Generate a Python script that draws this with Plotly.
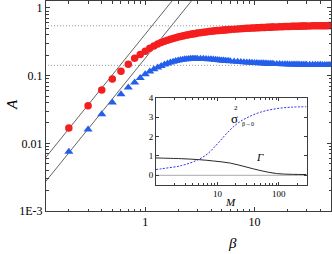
import plotly.graph_objects as go

# ---------------- data ----------------
beta_red = [0.2, 0.3, 0.4, 0.5, 0.6, 0.7, 0.8, 0.9, 1.0,
            1.1, 1.2, 1.3, 1.4, 1.5, 1.6, 1.7, 1.8, 1.9, 2.0,
            2.1, 2.2, 2.3, 2.4, 2.5, 2.6, 2.7, 2.8, 2.9, 3.0,
            3.2, 3.4, 3.6, 3.8, 4.0, 4.2, 4.4, 4.6, 4.8, 5.0,
            5.2, 5.4, 5.6, 5.8, 6.0, 6.5, 7.0, 7.5, 8.0, 8.5,
            9.0, 9.5, 10, 10.5, 11, 11.5, 12, 12.5, 13, 13.5,
            14, 14.5, 15, 16, 17, 18, 19, 20, 21, 22,
            23, 24, 25, 26, 27, 28, 29, 30, 32, 34,
            36, 38, 40, 42, 44, 46, 48, 50]
A_red = [0.0168, 0.0359, 0.0614, 0.0889, 0.116, 0.147, 0.180, 0.206, 0.230,
         0.254, 0.275, 0.293, 0.308, 0.322, 0.334, 0.345, 0.355, 0.364, 0.372,
         0.379, 0.386, 0.392, 0.398, 0.403, 0.408, 0.413, 0.417, 0.421, 0.425,
         0.432, 0.438, 0.443, 0.448, 0.452, 0.456, 0.460, 0.463, 0.466, 0.469,
         0.472, 0.474, 0.477, 0.479, 0.481, 0.486, 0.490, 0.494, 0.497, 0.500,
         0.503, 0.505, 0.507, 0.509, 0.511, 0.513, 0.515, 0.516, 0.518, 0.519,
         0.520, 0.522, 0.523, 0.525, 0.527, 0.529, 0.531, 0.532, 0.534, 0.535,
         0.536, 0.537, 0.538, 0.539, 0.540, 0.541, 0.541, 0.542, 0.543, 0.544,
         0.545, 0.546, 0.547, 0.547, 0.548, 0.548, 0.549, 0.549]

beta_blue = beta_red
A_blue = [0.0075, 0.016, 0.027, 0.040, 0.053, 0.067, 0.079, 0.092, 0.105,
          0.115, 0.124, 0.132, 0.139, 0.146, 0.151, 0.156, 0.160, 0.164, 0.167,
          0.170, 0.172, 0.174, 0.175, 0.176, 0.177, 0.178, 0.178, 0.178, 0.178,
          0.178, 0.177, 0.176, 0.175, 0.174, 0.173, 0.172, 0.170, 0.169, 0.168,
          0.167, 0.166, 0.165, 0.164, 0.163, 0.162, 0.160, 0.159, 0.158, 0.157,
          0.156, 0.155, 0.154, 0.1535, 0.153, 0.1525, 0.152, 0.1515, 0.151, 0.1505,
          0.150, 0.1495, 0.149, 0.1485, 0.148, 0.1477, 0.1473, 0.147, 0.1467, 0.1463,
          0.146, 0.146, 0.1457, 0.1455, 0.1453, 0.145, 0.145, 0.145, 0.1448, 0.1446,
          0.1445, 0.1444, 0.1443, 0.1442, 0.1441, 0.144, 0.144, 0.144]

# power-law guide lines A = c * beta^2
coef_lines = [0.41, 0.181]
line_beta = [0.1, 3.0]
# plateau levels
plateaus = [0.546, 0.142]
plateau_beta = [0.1, 60]

# inset data
M_sigma = [1.0, 1.23, 2.57, 4.8, 6.9, 10, 14.5, 20.9, 30.3, 49.5, 91.6, 167, 280]
sigma2 = [0.30, 0.34, 0.50, 0.80, 1.11, 1.63, 2.20, 2.67, 2.98, 3.26, 3.45, 3.53, 3.55]
M_gamma = [1.0, 1.23, 2.57, 5.0, 8.7, 16.3, 30.3, 49.5, 91.6, 167, 280]
gamma = [0.90, 0.89, 0.86, 0.81, 0.74, 0.63, 0.42, 0.25, 0.09, 0.05, 0.04]
zero_M = [1.0, 300]
zero_v = [0, 0]

y_tickvals = [0.001, 0.01, 0.1, 1]
y_ticktext = ["1E-3", "0.01", "0.1", "1"]
x_tickvals = [1, 10]
x_ticktext = ["1", "10"]

RED = "rgb(245,30,30)"
BLUE = "rgb(35,95,235)"
FONT = "Liberation Serif"
AX = "rgb(60,60,60)"

fig = go.Figure()

for c in coef_lines:
    fig.add_trace(go.Scatter(x=line_beta, y=[c * b ** 2 for b in line_beta], mode="lines",
                             line=dict(color="rgb(60,60,60)", width=0.8), showlegend=False))
for p in plateaus:
    fig.add_trace(go.Scatter(x=plateau_beta, y=[p, p], mode="lines",
                             line=dict(color="rgb(120,120,120)", width=0.8, dash="1px,2px"),
                             showlegend=False))

fig.add_trace(go.Scatter(x=beta_blue, y=A_blue, mode="markers",
                         marker=dict(symbol="triangle-up", size=8, color=BLUE, line=dict(width=0)),
                         showlegend=False))
fig.add_trace(go.Scatter(x=beta_red, y=A_red, mode="markers",
                         marker=dict(symbol="circle", size=7.5, color=RED, line=dict(width=0)),
                         showlegend=False))

# inset
fig.add_trace(go.Scatter(x=zero_M, y=zero_v, mode="lines", xaxis="x2", yaxis="y2",
                         line=dict(color="rgb(170,170,170)", width=1), showlegend=False))
fig.add_trace(go.Scatter(x=M_gamma, y=gamma, mode="lines", xaxis="x2", yaxis="y2",
                         line=dict(color="rgb(40,40,40)", width=1, shape="spline"), showlegend=False))
fig.add_trace(go.Scatter(x=M_sigma, y=sigma2, mode="lines", xaxis="x2", yaxis="y2",
                         line=dict(color="rgb(50,50,230)", width=1, dash="2px,1.5px", shape="spline"),
                         showlegend=False))

axis_common = dict(showline=True, linecolor=AX, linewidth=1, mirror="allticks",
                   ticks="inside", tickcolor=AX, showgrid=False, zeroline=False, automargin=False,
                   tickfont=dict(family=FONT, size=12, color="black"))
inset_common = dict(showline=True, linecolor=AX, linewidth=1, mirror="allticks",
                    ticks="inside", tickcolor=AX, showgrid=False, zeroline=False, automargin=False,
                    tickfont=dict(family=FONT, size=9, color="black"))


def label(text, x, y, size, angle=0, xanchor="center"):
    return dict(text=text, xref="paper", yref="paper", x=x, y=y, xanchor=xanchor,
                yanchor="middle", showarrow=False, textangle=angle,
                font=dict(family=FONT, size=size, color="black"))


fig.update_layout(
    width=332, height=254,
    margin=dict(l=46, r=1, t=1, b=43, autoexpand=False),
    paper_bgcolor="white", plot_bgcolor="white",
    showlegend=False,
    xaxis=dict(type="log", range=[-0.908, 1.70], tickvals=x_tickvals, ticktext=x_ticktext,
               ticklen=4, minor=dict(ticks="inside", ticklen=2.5, dtick="D1",
                                     tickcolor=AX, showgrid=False),
               **axis_common),
    yaxis=dict(type="log", range=[-3, 0.103], tickvals=y_tickvals, ticktext=y_ticktext,
               ticklen=4, minor=dict(ticks="inside", ticklen=2.5, dtick="D1",
                                     tickcolor=AX, showgrid=False),
               **axis_common),
    xaxis2=dict(type="log", range=[0, 2.46], domain=[0.386, 0.916], anchor="y2",
                tickvals=[10, 100], ticktext=["10", "100"], ticklen=3,
                minor=dict(ticks="inside", ticklen=1.5, dtick="D1", tickcolor=AX, showgrid=False),
                **inset_common),
    yaxis2=dict(range=[-0.5, 4], domain=[0.124, 0.538], anchor="x2",
                tickvals=[0, 1, 2, 3, 4], ticklen=3, **inset_common),
    annotations=[
        label("<i>A</i>", -0.119, 0.505, 15, -90),
        label("<i>β</i>", 0.653, -0.152, 15),
        label("<i>M</i>", 0.649, 0.045, 11),
        label("σ", 0.662, 0.440, 13),
        label("2", 0.667, 0.492, 7),
        label("β→0", 0.680, 0.412, 6, xanchor="left"),
        label("<i>Γ</i>", 0.751, 0.257, 11),
    ],
)

fig.write_html("out.html", config={"displayModeBar": False},
               post_script="document.body.style.margin='0';")
